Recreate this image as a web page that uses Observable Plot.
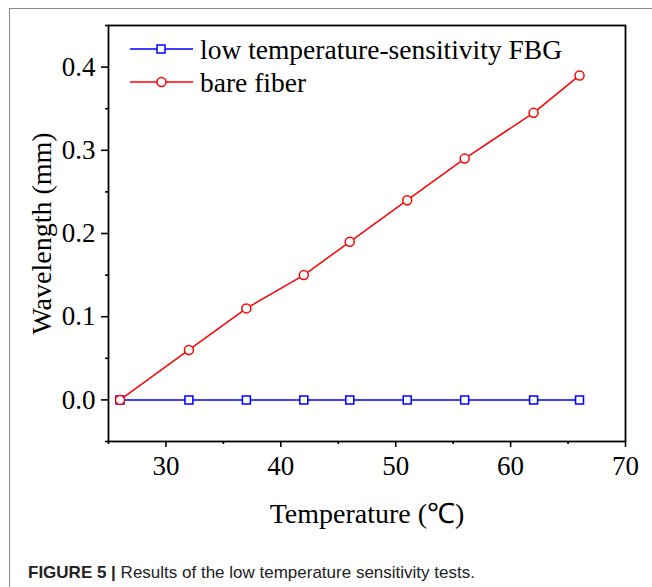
<!DOCTYPE html>
<html>
<head>
<meta charset="utf-8">
<script src="https://cdn.jsdelivr.net/npm/d3@7"></script>
<script src="https://cdn.jsdelivr.net/npm/@observablehq/plot@0.6"></script>
<style>
  html, body { margin: 0; padding: 0; background: #fff; }
  #wrap { position: relative; width: 652px; height: 587px; overflow: hidden; }
  #border { position: absolute; left: 9px; top: 8px; width: 700px; height: 700px;
            border-top: 1.5px solid #8a8a8a; border-left: 1.5px solid #8a8a8a; }
  #chart { position: absolute; left: 0; top: 0; }
  #caption { position: absolute; left: 28px; top: 563px; font-family: "Liberation Sans", Arial, sans-serif;
             font-size: 17px; color: #222; white-space: nowrap; line-height: 20px; }
</style>
</head>
<body>
<div id="wrap">
  <div id="border"></div>
  <div id="chart"></div>
  <div id="caption"><b>FIGURE 5 |</b> Results of the low temperature sensitivity tests.</div>
</div>
<script>
const temperature = [26, 32, 37, 42, 46, 51, 56, 62, 66];
const fbgShift = [0, 0, 0, 0, 0, 0, 0, 0, 0];
const bareShift = [0, 0.06, 0.11, 0.15, 0.19, 0.24, 0.29, 0.345, 0.39];
const seriesNames = ["low temperature-sensitivity FBG", "bare fiber"];
const seriesColors = ["#0000ff", "#ff0000"];
const xTicks = [30, 40, 50, 60, 70];
const xMinor = [25, 35, 45, 55, 65];
const yTicks = [0, 0.1, 0.2, 0.3, 0.4];
const yMinor = [-0.05, 0.05, 0.15, 0.25, 0.35, 0.45];

const fbg = temperature.map((t, i) => ({t, v: fbgShift[i]}));
const bare = temperature.map((t, i) => ({t, v: bareShift[i]}));

function legendMark(index, scales, values, dims) {
  const g = d3.create("svg:g");
  const x0 = dims.marginLeft + 22, y0 = dims.marginTop + 24, gap = 33;
  seriesNames.forEach((name, i) => {
    const y = y0 + i * gap;
    g.append("line").attr("x1", x0).attr("x2", x0 + 63).attr("y1", y).attr("y2", y)
      .attr("stroke", seriesColors[i]).attr("stroke-width", 1.5);
    if (i === 0) {
      g.append("rect").attr("x", x0 + 27).attr("y", y - 4).attr("width", 8).attr("height", 8)
        .attr("fill", "white").attr("stroke", seriesColors[i]).attr("stroke-width", 1.5);
    } else {
      g.append("circle").attr("cx", x0 + 31.5).attr("cy", y).attr("r", 4.5)
        .attr("fill", "white").attr("stroke", seriesColors[i]).attr("stroke-width", 1.5);
    }
    g.append("text").attr("x", x0 + 70).attr("y", y).attr("dy", "0.35em")
      .attr("text-anchor", "start")
      .attr("font-size", 27.5).attr("font-family", "Liberation Serif, Times New Roman, serif")
      .attr("fill", "black").text(name);
  });
  return g.node();
}

const chart = Plot.plot({
  width: 652,
  height: 540,
  marginLeft: 108,
  marginRight: 27,
  marginTop: 25,
  marginBottom: 99,
  x: {domain: [25, 70]},
  y: {domain: [-0.05, 0.45]},
  style: {fontFamily: "Liberation Serif, Times New Roman, serif", fontSize: "27px", color: "black", background: "transparent"},
  marks: [
    Plot.axisX({ticks: xTicks, tickSize: 6, tickPadding: 8, fontSize: 27, label: null, strokeWidth: 1.6}),
    Plot.axisX({ticks: xMinor, tickSize: 3, tickFormat: () => "", label: null, strokeWidth: 1.6}),
    Plot.axisY({ticks: yTicks, tickSize: 7, tickPadding: 6, fontSize: 27, tickFormat: d3.format(".1f"), label: null, strokeWidth: 1.6}),
    Plot.axisY({ticks: yMinor, tickSize: 3, tickFormat: () => "", label: null, strokeWidth: 1.6}),
    Plot.frame({stroke: "black", strokeWidth: 1.8}),
    Plot.line(fbg, {x: "t", y: "v", stroke: seriesColors[0], strokeWidth: 1.5}),
    Plot.dot(fbg, {x: "t", y: "v", symbol: "square", r: 4.5, stroke: seriesColors[0], fill: "white", strokeWidth: 1.5}),
    Plot.line(bare, {x: "t", y: "v", stroke: seriesColors[1], strokeWidth: 1.5}),
    Plot.dot(bare, {x: "t", y: "v", symbol: "circle", r: 4.5, stroke: seriesColors[1], fill: "white", strokeWidth: 1.5}),
    Plot.text(["Wavelength (mm)"], {frameAnchor: "left", dx: -66, rotate: -90, textAnchor: "middle", lineAnchor: "middle", fontSize: 28, fill: "black"}),
    Plot.text(["Temperature (℃)"], {frameAnchor: "bottom", dy: 73, textAnchor: "middle", lineAnchor: "middle", fontSize: 28, fill: "black"}),
    legendMark
  ]
});
document.getElementById("chart").appendChild(chart);
</script>
</body>
</html>
